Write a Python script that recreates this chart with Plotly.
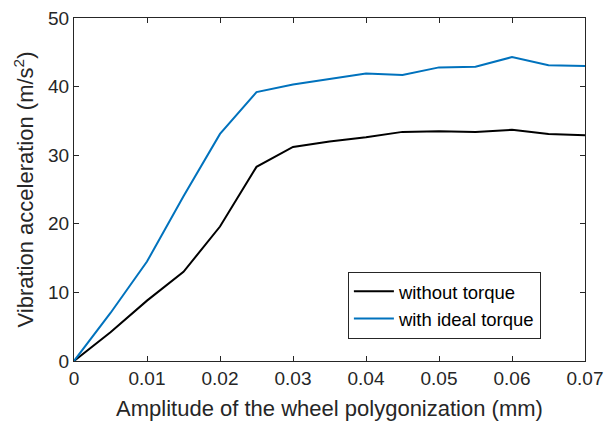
import plotly.graph_objects as go

# Wheel polygonization amplitude (mm)
amplitude = [0.0, 0.005, 0.01, 0.015, 0.02, 0.025, 0.03, 0.035, 0.04,
             0.045, 0.05, 0.055, 0.06, 0.065, 0.07]

# Vibration acceleration (m/s^2)
without_torque = [0.0, 4.2, 8.8, 13.0, 19.6, 28.3, 31.2, 32.0, 32.6,
                  33.4, 33.5, 33.4, 33.7, 33.1, 32.9]
with_ideal_torque = [0.0, 7.0, 14.5, 24.0, 33.1, 39.2, 40.3, 41.1, 41.9,
                     41.7, 42.8, 42.9, 44.3, 43.1, 43.0]

x_ticks = [0, 0.01, 0.02, 0.03, 0.04, 0.05, 0.06, 0.07]
x_tick_text = ["0", "0.01", "0.02", "0.03", "0.04", "0.05", "0.06", "0.07"]
y_ticks = [0, 10, 20, 30, 40, 50]

ink = "#262626"
font_family = "Liberation Sans, Arial, sans-serif"

fig = go.Figure()
fig.add_trace(go.Scatter(x=amplitude, y=without_torque, mode="lines",
                         name="without torque",
                         line=dict(color="#000000", width=2)))
fig.add_trace(go.Scatter(x=amplitude, y=with_ideal_torque, mode="lines",
                         name="with ideal torque",
                         line=dict(color="#0072BD", width=2)))

axis_common = dict(showline=True, linecolor=ink, linewidth=1, mirror="ticks",
                   ticks="inside", ticklen=5, tickcolor=ink, showgrid=False,
                   zeroline=False, automargin=False,
                   tickfont=dict(size=19, color=ink))

fig.update_xaxes(range=[0, 0.07], tickvals=x_ticks, ticktext=x_tick_text,
                 title=dict(text="Amplitude of the wheel polygonization (mm)",
                            font=dict(size=22, color=ink), standoff=12),
                 **axis_common)
fig.update_yaxes(range=[0, 50], tickvals=y_ticks,
                 title=dict(text="Vibration acceleration (m/s<sup>2</sup>)",
                            font=dict(size=22, color=ink), standoff=8),
                 **axis_common)

fig.update_layout(
    width=607, height=424,
    margin=dict(l=74, r=22, t=18, b=63),
    paper_bgcolor="white", plot_bgcolor="white",
    font=dict(family=font_family, color=ink),
    legend=dict(x=0.536, y=0.26, xanchor="left", yanchor="top",
                bgcolor="white", bordercolor=ink, borderwidth=1,
                font=dict(size=18.5, color="#000000"),
                tracegroupgap=0, itemwidth=40),
)

fig.write_html("out.html")
